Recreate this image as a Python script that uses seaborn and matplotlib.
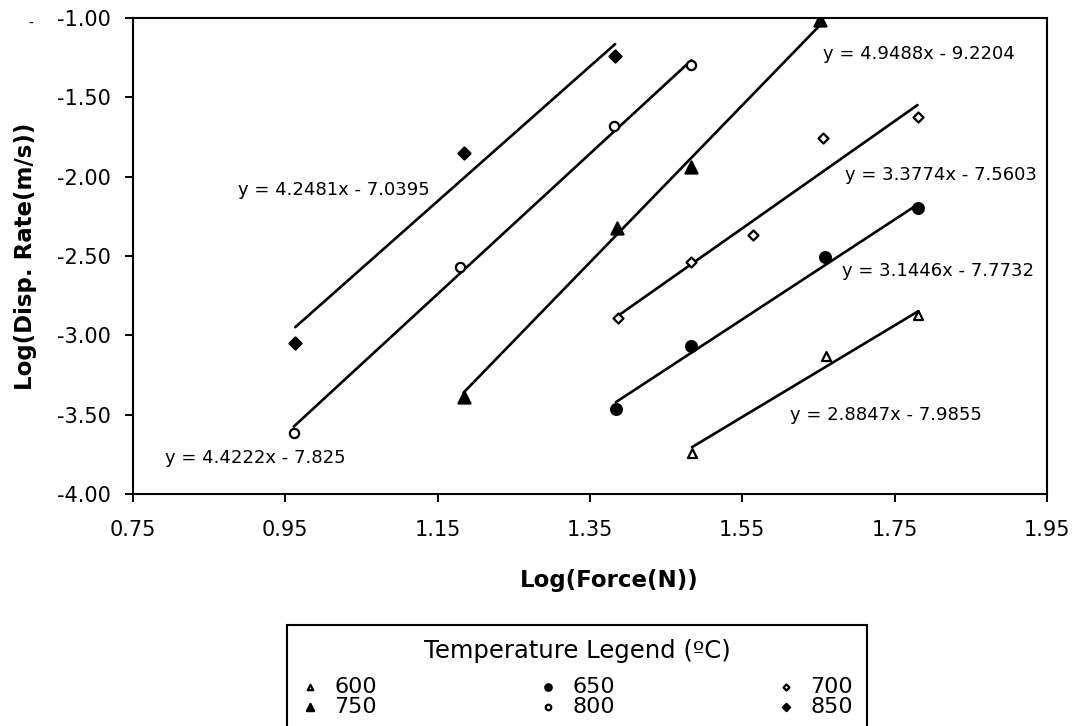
import numpy as np
import pandas as pd
import matplotlib
matplotlib.use("Agg")
import matplotlib.pyplot as plt
import seaborn as sns

# Test temperatures (°C)
temps = [600, 650, 700, 750, 800, 850]

# Log(Force(N)) and Log(Disp. Rate(m/s)) for each temperature
x600 = [1.484, 1.660, 1.781]
y600 = [-3.743, -3.130, -2.871]
x650 = [1.384, 1.483, 1.659, 1.781]
y650 = [-3.466, -3.067, -2.508, -2.199]
x700 = [1.387, 1.483, 1.564, 1.656, 1.780]
y700 = [-2.892, -2.539, -2.367, -1.758, -1.622]
x750 = [1.184, 1.385, 1.482, 1.652]
y750 = [-3.390, -2.325, -1.937, -1.010]
x800 = [0.961, 1.179, 1.381, 1.483]
y800 = [-3.617, -2.567, -1.681, -1.296]
x850 = [0.963, 1.185, 1.383]
y850 = [-3.046, -1.849, -1.239]

# Linear trend in log-log space: y = slope * x + intercept
slopes = [2.8847, 3.1446, 3.3774, 4.9488, 4.4222, 4.2481]
intercepts = [-7.9855, -7.7732, -7.5603, -9.2204, -7.825, -7.0395]
eq_labels = ["y = 2.8847x - 7.9855", "y = 3.1446x - 7.7732",
             "y = 3.3774x - 7.5603", "y = 4.9488x - 9.2204",
             "y = 4.4222x - 7.825", "y = 4.2481x - 7.0395"]

x_ticks = [0.75, 0.95, 1.15, 1.35, 1.55, 1.75, 1.95]
y_ticks = [-4.00, -3.50, -3.00, -2.50, -2.00, -1.50, -1.00]

xs_all = [x600, x650, x700, x750, x800, x850]
ys_all = [y600, y650, y700, y750, y800, y850]

# Where each equation is written (data coords, left edge / vertical centre)
eq_anchor_x = [1.613, 1.681, 1.685, 1.656, 0.792, 0.888]
eq_anchor_y = [-3.500, -2.594, -1.989, -1.227, -3.772, -2.084]

# marker, area (pt^2), filled
marker_style = {
    600: ("^", 42, False),
    650: ("o", 60, True),
    700: ("D", 26, False),
    750: ("^", 75, True),
    800: ("o", 44, False),
    850: ("D", 38, True),
}

sns.set_style("ticks")
plt.rcParams["font.family"] = ["DejaVu Sans"]
plt.rcParams["text.color"] = "black"
plt.rcParams["axes.labelcolor"] = "black"
plt.rcParams["xtick.color"] = "black"
plt.rcParams["ytick.color"] = "black"

fig = plt.figure(figsize=(10.8, 7.26), dpi=100)
ax = fig.add_axes([133 / 1080, 1 - 494 / 726, 914 / 1080, 476 / 726])

handles = {}
for i, t in enumerate(temps):
    df = pd.DataFrame({"force": xs_all[i], "rate": ys_all[i]})
    m, s, filled = marker_style[t]
    sns.scatterplot(data=df, x="force", y="rate", marker=m, s=s,
                    color="black" if filled else "white",
                    edgecolor="black", linewidth=1.6, ax=ax, zorder=4,
                    legend=False)
    handles[t] = ax.collections[-1]

    fit_x = np.array([min(xs_all[i]), max(xs_all[i])])
    fit_y = slopes[i] * fit_x + intercepts[i]
    sns.lineplot(x=fit_x, y=fit_y, color="black", linewidth=1.9,
                 estimator=None, sort=False, ax=ax, zorder=3)

    ax.text(eq_anchor_x[i], eq_anchor_y[i], eq_labels[i], fontsize=13,
            ha="left", va="center", zorder=5)

ax.set_xlim(x_ticks[0], x_ticks[-1])
ax.set_ylim(y_ticks[0], y_ticks[-1])
ax.set_xticks(x_ticks)
ax.set_yticks(y_ticks)
ax.set_xticklabels([f"{v:.2f}" for v in x_ticks], fontsize=15)
ax.set_yticklabels([f"{v:.2f}" for v in y_ticks], fontsize=15)
ax.tick_params(axis="both", direction="out", length=6, width=1.4)
ax.tick_params(axis="x", pad=13)
ax.tick_params(axis="y", pad=10)
for sp in ax.spines.values():
    sp.set_visible(True)
    sp.set_linewidth(1.5)
    sp.set_color("black")

ax.set_xlabel("Log(Force(N))", fontsize=16.5, fontweight="bold")
ax.set_ylabel("Log(Disp. Rate(m/s))", fontsize=16.5, fontweight="bold")
ax.xaxis.set_label_coords(0.521, -0.181)
ax.xaxis.label.set_va("center")
ax.yaxis.set_label_coords(-0.118, 0.5)
ax.yaxis.label.set_va("center")

fig.text(31 / 1080, 1 - 24 / 726, "-", fontsize=10, ha="center", va="center")

# Legend: three columns, two closely stacked rows under a title
order = [600, 750, 650, 800, 700, 850]
leg = fig.legend([handles[t] for t in order], [str(t) for t in order],
                 ncol=3, loc="upper left",
                 bbox_to_anchor=(287 / 1080, 1 - 625 / 726),
                 title="Temperature Legend (ºC)",
                 fontsize=16, title_fontsize=17.5, frameon=True, fancybox=False,
                 framealpha=1, edgecolor="black", borderpad=0.62,
                 labelspacing=0.0, handlelength=0.8, handletextpad=0.7,
                 columnspacing=7.3, markerscale=0.6, scatterpoints=1,
                 borderaxespad=0)
leg._legend_box.sep = 10
leg.get_frame().set_linewidth(1.5)

fig.savefig("out.png", dpi=100, facecolor="white")
